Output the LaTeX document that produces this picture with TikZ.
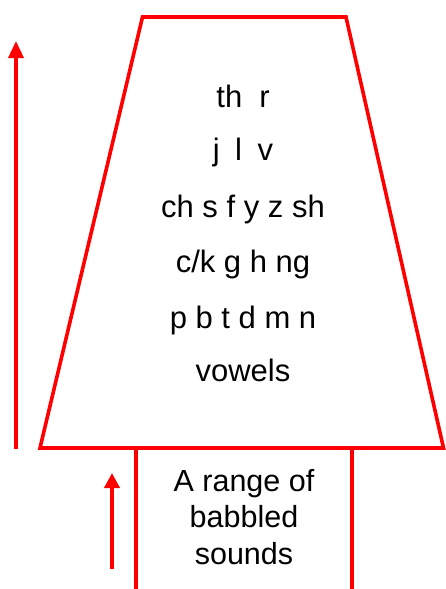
\documentclass[tikz,border=0pt]{standalone}
\usepackage{fontspec}
\setmainfont{Liberation Sans}
\usetikzlibrary{arrows.meta}
\definecolor{pyred}{RGB}{255,0,0}
\tikzset{
  outline/.style={draw=pyred, line width=3.6pt, line join=miter},
  rise/.style={draw=pyred, line width=3.6pt, -{Triangle[width=15pt,length=17pt]}},
  smallrise/.style={draw=pyred, line width=3.6pt, -{Triangle[width=15pt,length=15pt]}},
  sound/.style={font=\fontsize{31}{37}\selectfont, text=black, inner sep=0pt, anchor=base},
  basebox/.style={font=\fontsize{30.5}{36.5}\selectfont, text=black, align=center, inner sep=0pt}
}
\begin{document}
\begin{tikzpicture}[x=1pt, y=-1pt]
  \useasboundingbox (0,0) rectangle (446,589);
  % trapezoid of speech sounds
  \coordinate (tl) at (142.5,17);
  \coordinate (tr) at (346,17);
  \coordinate (br) at (443.5,448);
  \coordinate (bl) at (40,448);
  \draw[outline] (tl) -- (tr) -- (br) -- (bl) -- cycle;
  % base column holding the babbling stage
  \coordinate (cl) at (136,448);
  \coordinate (cr) at (352,448);
  \coordinate (clb) at (136,595);
  \coordinate (crb) at (352,595);
  \draw[outline] (cl) -- (clb);
  \draw[outline] (cr) -- (crb);
  % development arrows
  \coordinate (bigfoot) at (16,449);
  \coordinate (bigtip) at (16,41);
  \draw[rise] (bigfoot) -- (bigtip);
  \coordinate (smallfoot) at (112,569);
  \coordinate (smalltip) at (112,473);
  \draw[smallrise] (smallfoot) -- (smalltip);
  % sounds, from latest to earliest
  \node[sound] (s1) at (243,107) {th\hspace{0.55em}r};
  \node[sound] (s2) at (243,160) {j\hspace{0.5em}l\hspace{0.5em}v};
  \node[sound] (s3) at (243,217) {ch s f y z sh};
  \node[sound] (s4) at (243,272) {c/k g h ng};
  \node[sound] (s5) at (243,328) {p b t d m n};
  \node[sound] (s6) at (243,381) {vowels};
  \node[basebox] (babble) at (244,517) {A range of\\babbled\\sounds};
\end{tikzpicture}
\end{document}
